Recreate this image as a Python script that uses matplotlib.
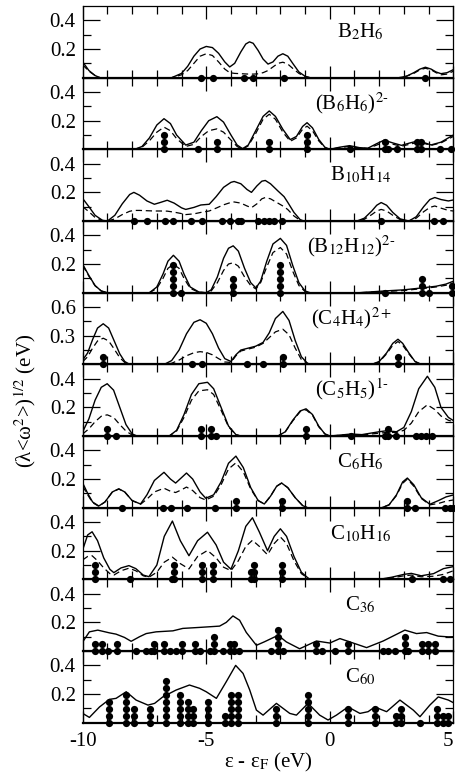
import matplotlib.pyplot as plt
import numpy as np

plt.rcParams['font.family'] = ['Liberation Serif', 'DejaVu Serif']
plt.rcParams['mathtext.fontset'] = 'stix'
plt.rcParams['axes.unicode_minus'] = False

# columns: energy (eV), full curve, dashed curve
b2h6_curve = np.array([
    [-10, 0.11, 0.09], [-9.75, 0.05, 0.045], [-9.5, 0.015, 0.015], [-9.3, 0, 0],
    [-6.4, 0, 0], [-6.0, 0.03, 0.02], [-5.75, 0.08, 0.05], [-5.5, 0.15, 0.10],
    [-5.25, 0.20, 0.15], [-5.0, 0.218, 0.167], [-4.75, 0.21, 0.155], [-4.5, 0.17, 0.11],
    [-4.25, 0.11, 0.06], [-4.05, 0.075, 0.035], [-3.85, 0.10, 0.03], [-3.6, 0.18, 0.028],
    [-3.4, 0.235, 0.026], [-3.25, 0.25, 0.025], [-3.1, 0.24, 0.025], [-2.9, 0.19, 0.027],
    [-2.7, 0.13, 0.035], [-2.5, 0.095, 0.05], [-2.3, 0.11, 0.075], [-2.1, 0.15, 0.10],
    [-1.9, 0.167, 0.108], [-1.7, 0.15, 0.095], [-1.5, 0.10, 0.065], [-1.25, 0.04, 0.03],
    [-1.0, 0.01, 0.008], [-0.8, 0, 0], [2.8, 0, 0], [3.1, 0.01, 0.01],
    [3.4, 0.035, 0.03], [3.65, 0.06, 0.055], [3.87, 0.073, 0.066], [4.1, 0.06, 0.055],
    [4.3, 0.04, 0.035], [4.5, 0.028, 0.02], [4.75, 0.035, 0.025], [5.0, 0.056, 0.045],
])
b2h6_lev = [-5.22, -4.72, -3.46, -3.10, -1.87, 3.87]
b2h6_deg = [1, 1, 1, 1, 1, 1]

b6h6_curve = np.array([
    [-10, 0, 0], [-7.9, 0, 0], [-7.6, 0.02, 0.015], [-7.3, 0.08, 0.06],
    [-7.0, 0.17, 0.12], [-6.71, 0.214, 0.155], [-6.45, 0.18, 0.13], [-6.2, 0.10, 0.075],
    [-5.83, 0.03, 0.02], [-5.5, 0.05, 0.035], [-5.2, 0.13, 0.09], [-4.9, 0.20, 0.13],
    [-4.57, 0.228, 0.143], [-4.3, 0.19, 0.12], [-4.0, 0.10, 0.065], [-3.75, 0.03, 0.02],
    [-3.53, 0.005, 0.0], [-3.3, 0.03, 0.025], [-3.0, 0.13, 0.11], [-2.7, 0.23, 0.21],
    [-2.45, 0.268, 0.245], [-2.2, 0.23, 0.21], [-1.9, 0.14, 0.12], [-1.6, 0.068, 0.056],
    [-1.35, 0.09, 0.08], [-1.1, 0.16, 0.14], [-0.92, 0.186, 0.162], [-0.7, 0.15, 0.13],
    [-0.45, 0.07, 0.06], [-0.2, 0.015, 0.012], [0.0, 0, 0], [0.4, 0.015, 0.012],
    [0.8, 0.026, 0.02], [1.2, 0.012, 0.01], [1.54, 0.008, 0.006], [1.9, 0.04, 0.03],
    [2.2, 0.064, 0.05], [2.55, 0.045, 0.036], [2.9, 0.028, 0.022], [3.25, 0.045, 0.036],
    [3.57, 0.059, 0.05], [3.85, 0.045, 0.04], [4.1, 0.031, 0.028], [4.5, 0.05, 0.045],
    [5.0, 0.10, 0.09],
])
b6h6_lev = [-6.71, -5.32, -4.57, -2.45, -0.92, 0.83, 2.22, 2.36, 2.72, 3.55, 3.70, 4.47, 4.90]
b6h6_deg = [3, 1, 2, 2, 3, 1, 2, 1, 1, 2, 2, 1, 1]

b10h14_curve = np.array([
    [-10, 0.157, 0.10], [-9.75, 0.10, 0.065], [-9.5, 0.04, 0.025], [-9.2, 0.005, 0.003],
    [-9.0, 0, 0], [-8.7, 0.04, 0.015], [-8.4, 0.12, 0.045], [-8.1, 0.185, 0.068],
    [-7.93, 0.20, 0.074], [-7.7, 0.18, 0.074], [-7.4, 0.14, 0.072], [-7.1, 0.117, 0.07],
    [-6.85, 0.13, 0.07], [-6.58, 0.145, 0.069], [-6.3, 0.125, 0.062], [-6.0, 0.092, 0.052],
    [-5.83, 0.081, 0.045], [-5.5, 0.095, 0.05], [-5.22, 0.112, 0.06], [-4.88, 0.117, 0.07],
    [-4.6, 0.17, 0.09], [-4.3, 0.235, 0.113], [-4.0, 0.27, 0.13], [-3.87, 0.276, 0.133],
    [-3.6, 0.26, 0.125], [-3.35, 0.22, 0.105], [-3.17, 0.20, 0.093], [-2.95, 0.245, 0.12],
    [-2.75, 0.278, 0.155], [-2.61, 0.283, 0.164], [-2.4, 0.26, 0.155], [-2.1, 0.21, 0.125],
    [-1.85, 0.17, 0.10], [-1.7, 0.13, 0.08], [-1.45, 0.06, 0.035], [-1.2, 0.01, 0.005],
    [-1.05, 0, 0], [1.1, 0, 0], [1.4, 0.02, 0.012], [1.7, 0.07, 0.045],
    [1.9, 0.11, 0.07], [2.08, 0.129, 0.081], [2.3, 0.11, 0.07], [2.55, 0.06, 0.04],
    [2.85, 0.015, 0.01], [3.2, 0, 0], [3.5, 0.03, 0.02], [3.8, 0.10, 0.065],
    [4.05, 0.15, 0.095], [4.25, 0.164, 0.105], [4.5, 0.15, 0.09], [4.8, 0.14, 0.074],
    [5.0, 0.147, 0.07],
])
b10h14_lev = [-7.93, -7.39, -6.68, -6.33, -5.63, -5.16, -4.38, -4.03, -3.71, -3.60,
              -2.90, -2.65, -2.45, -2.25, -1.94, 2.08, 4.22, 4.59]
b10h14_deg = [1] * 18

b12h12_curve = np.array([
    [-10, 0.198, 0.19], [-9.75, 0.12, 0.115], [-9.5, 0.05, 0.048], [-9.25, 0.012, 0.012],
    [-9.0, 0, 0], [-7.3, 0, 0], [-7.0, 0.04, 0.03], [-6.75, 0.13, 0.10],
    [-6.55, 0.22, 0.17], [-6.33, 0.261, 0.198], [-6.1, 0.22, 0.17], [-5.9, 0.13, 0.10],
    [-5.65, 0.04, 0.03], [-5.3, 0.005, 0.003], [-5.0, 0, 0], [-4.8, 0.02, 0.012],
    [-4.55, 0.11, 0.07], [-4.3, 0.24, 0.155], [-4.1, 0.31, 0.20], [-3.91, 0.327, 0.209],
    [-3.7, 0.29, 0.185], [-3.45, 0.17, 0.11], [-3.2, 0.07, 0.05], [-2.99, 0.033, 0.026],
    [-2.8, 0.08, 0.07], [-2.55, 0.22, 0.18], [-2.3, 0.34, 0.28], [-2.0, 0.379, 0.315],
    [-1.75, 0.33, 0.27], [-1.5, 0.19, 0.15], [-1.25, 0.07, 0.05], [-1.0, 0.012, 0.008],
    [-0.8, 0, 0], [1.2, 0, 0], [2.2, 0.012, 0.008], [3.0, 0.02, 0.015],
    [3.7, 0.033, 0.028], [4.3, 0.045, 0.04], [4.7, 0.06, 0.052], [5.0, 0.08, 0.068],
])
b12h12_lev = [-6.33, -6.04, -3.91, -2.0, 2.25, 3.73, 4.0, 4.93]
b12h12_deg = [5, 1, 3, 5, 1, 3, 1, 2]

c4h4_curve = np.array([
    [-10, 0.046, 0.028], [-9.8, 0.12, 0.08], [-9.6, 0.26, 0.17], [-9.4, 0.38, 0.245],
    [-9.17, 0.425, 0.274], [-8.95, 0.38, 0.245], [-8.75, 0.26, 0.17], [-8.5, 0.11, 0.07],
    [-8.3, 0.03, 0.02], [-8.1, 0, 0], [-6.7, 0, 0], [-6.4, 0.04, 0.012],
    [-6.1, 0.15, 0.045], [-5.8, 0.32, 0.09], [-5.5, 0.44, 0.122], [-5.25, 0.467, 0.133],
    [-5.0, 0.43, 0.125], [-4.75, 0.32, 0.10], [-4.5, 0.17, 0.06], [-4.25, 0.06, 0.025],
    [-4.0, 0.03, 0.02], [-3.8, 0.10, 0.09], [-3.6, 0.15, 0.14], [-3.3, 0.17, 0.16],
    [-3.0, 0.19, 0.18], [-2.7, 0.23, 0.22], [-2.45, 0.33, 0.28], [-2.2, 0.48, 0.34],
    [-1.9, 0.554, 0.368], [-1.65, 0.46, 0.31], [-1.4, 0.25, 0.17], [-1.15, 0.08, 0.05],
    [-0.9, 0.01, 0.01], [-0.7, 0, 0], [1.7, 0, 0], [2.0, 0.03, 0.025],
    [2.3, 0.12, 0.11], [2.55, 0.22, 0.20], [2.76, 0.263, 0.239], [2.95, 0.22, 0.20],
    [3.2, 0.12, 0.11], [3.45, 0.03, 0.03], [3.7, 0, 0], [5.0, 0, 0],
])
c4h4_lev = [-9.17, -5.56, -5.16, -3.36, -2.72, -1.91, 2.76]
c4h4_deg = [2, 1, 1, 1, 1, 2, 2]

c5h5_curve = np.array([
    [-10, 0.03, 0.015], [-9.75, 0.12, 0.05], [-9.5, 0.25, 0.10], [-9.25, 0.34, 0.138],
    [-9.01, 0.365, 0.148], [-8.75, 0.32, 0.13], [-8.5, 0.20, 0.08], [-8.25, 0.08, 0.035],
    [-8.0, 0.015, 0.007], [-7.8, 0, 0], [-6.5, 0, 0], [-6.2, 0.04, 0.035],
    [-5.9, 0.15, 0.13], [-5.6, 0.29, 0.25], [-5.3, 0.365, 0.315], [-4.95, 0.375, 0.323],
    [-4.7, 0.33, 0.29], [-4.4, 0.20, 0.18], [-4.1, 0.07, 0.065], [-3.8, 0.01, 0.01],
    [-3.6, 0, 0], [-2.1, 0, 0], [-1.8, 0.03, 0.03], [-1.5, 0.11, 0.105],
    [-1.2, 0.175, 0.17], [-0.96, 0.19, 0.183], [-0.7, 0.15, 0.145], [-0.45, 0.07, 0.065],
    [-0.2, 0.015, 0.015], [0.0, 0, 0], [0.5, 0.008, 0.006], [0.85, 0.014, 0.01],
    [1.3, 0.01, 0.008], [2.0, 0.03, 0.02], [2.3, 0.037, 0.025], [2.7, 0.03, 0.025],
    [3.0, 0.06, 0.04], [3.3, 0.17, 0.09], [3.6, 0.33, 0.17], [3.95, 0.417, 0.218],
    [4.25, 0.34, 0.185], [4.5, 0.20, 0.14], [4.8, 0.13, 0.11], [5.0, 0.108, 0.10],
])
c5h5_lev = [-9.01, -8.67, -5.22, -4.79, -4.61, -0.95, 0.87, 2.22, 2.35, 2.69,
            3.50, 3.70, 3.89, 4.12]
c5h5_deg = [2, 1, 2, 2, 1, 2, 1, 1, 2, 1, 1, 1, 1, 1]

c6h6_curve = np.array([
    [-10, 0.172, 0.15], [-9.8, 0.10, 0.09], [-9.6, 0.04, 0.035], [-9.35, 0.012, 0.01],
    [-9.1, 0.04, 0.04], [-8.8, 0.11, 0.11], [-8.54, 0.132, 0.13], [-8.3, 0.11, 0.11],
    [-8.0, 0.05, 0.05], [-7.66, 0.026, 0.024], [-7.4, 0.09, 0.06], [-7.1, 0.19, 0.11],
    [-6.71, 0.247, 0.136], [-6.45, 0.20, 0.115], [-6.24, 0.172, 0.106], [-6.0, 0.21, 0.125],
    [-5.8, 0.242, 0.144], [-5.55, 0.20, 0.12], [-5.25, 0.11, 0.07], [-5.02, 0.066, 0.054],
    [-4.7, 0.09, 0.08], [-4.4, 0.18, 0.16], [-4.1, 0.31, 0.27], [-3.8, 0.36, 0.313],
    [-3.5, 0.28, 0.25], [-3.2, 0.14, 0.13], [-2.9, 0.05, 0.05], [-2.65, 0.026, 0.026],
    [-2.4, 0.08, 0.08], [-2.15, 0.15, 0.15], [-1.95, 0.172, 0.172], [-1.7, 0.14, 0.14],
    [-1.4, 0.07, 0.07], [-1.1, 0.015, 0.015], [-0.9, 0, 0], [2.1, 0, 0],
    [2.4, 0.02, 0.02], [2.7, 0.09, 0.085], [2.95, 0.18, 0.17], [3.14, 0.207, 0.20],
    [3.4, 0.16, 0.15], [3.7, 0.07, 0.065], [4.05, 0.024, 0.02], [4.4, 0.05, 0.03],
    [4.7, 0.075, 0.045], [5.0, 0.089, 0.054],
])
c6h6_lev = [-8.43, -6.75, -6.44, -5.76, -4.65, -3.79, -1.94, 3.13, 3.44, 4.65, 4.86, 4.98]
c6h6_deg = [1, 1, 1, 1, 1, 2, 2, 2, 1, 1, 1, 1]

c10h16_curve = np.array([
    [-10, 0.207, 0.136], [-9.8, 0.31, 0.16], [-9.62, 0.332, 0.165], [-9.4, 0.27, 0.13],
    [-9.15, 0.15, 0.08], [-8.9, 0.07, 0.04], [-8.74, 0.047, 0.03], [-8.45, 0.08, 0.06],
    [-8.13, 0.096, 0.078], [-7.85, 0.075, 0.06], [-7.55, 0.03, 0.025], [-7.32, 0.019, 0.015],
    [-7.0, 0.10, 0.05], [-6.7, 0.30, 0.12], [-6.37, 0.407, 0.155], [-6.05, 0.27, 0.11],
    [-5.7, 0.165, 0.073], [-5.35, 0.27, 0.16], [-4.95, 0.329, 0.202], [-4.6, 0.24, 0.15],
    [-4.3, 0.12, 0.085], [-4.0, 0.071, 0.061], [-3.7, 0.20, 0.13], [-3.4, 0.37, 0.23],
    [-3.13, 0.43, 0.273], [-2.85, 0.33, 0.23], [-2.52, 0.20, 0.172], [-2.25, 0.30, 0.25],
    [-2.0, 0.353, 0.296], [-1.75, 0.30, 0.25], [-1.45, 0.16, 0.13], [-1.15, 0.05, 0.04],
    [-0.85, 0.005, 0.004], [-0.7, 0, 0], [2.0, 0, 0], [2.5, 0.015, 0.01],
    [3.0, 0.035, 0.025], [3.3, 0.042, 0.03], [3.7, 0.025, 0.018], [4.2, 0.04, 0.022],
    [4.6, 0.075, 0.035], [5.0, 0.089, 0.06],
])
c10h16_lev = [-9.51, -8.09, -6.40, -6.30, -5.18, -4.74, -3.19, -3.06, -1.94, 3.34, 4.59, 4.86]
c10h16_deg = [3, 1, 1, 3, 3, 3, 2, 3, 3, 1, 1, 1]

# columns: energy (eV), full curve
c36_curve = np.array([
    [-10, 0.064], [-9.73, 0.134], [-9.39, 0.146], [-8.92, 0.127], [-8.65, 0.118],
    [-8.31, 0.095], [-8.04, 0.068], [-7.7, 0.10], [-7.43, 0.122], [-7.03, 0.134],
    [-6.35, 0.141], [-5.95, 0.158], [-5.27, 0.165], [-4.46, 0.174], [-4.19, 0.20],
    [-3.92, 0.245], [-3.65, 0.215], [-3.38, 0.13], [-2.97, 0.04], [-2.64, 0.065],
    [-2.09, 0.11], [-1.76, 0.064], [-1.22, 0.016], [-0.54, 0.07], [0.0, 0.056],
    [0.41, 0.087], [0.81, 0.064], [1.49, 0.024], [2.16, 0.07], [3.04, 0.146],
    [3.51, 0.122], [3.92, 0.129], [4.39, 0.104], [4.8, 0.099], [5.0, 0.10],
])
c36_lev = [-9.49, -9.22, -8.99, -8.62, -7.84, -7.43, -7.23, -7.12, -6.69, -6.46,
           -6.22, -5.99, -5.45, -5.27, -4.86, -4.69, -4.32, -4.05, -3.89, -3.68,
           -2.36, -2.09, -1.89, -0.54, -0.31, 0.20, 0.72, 2.16, 2.36, 2.64,
           3.04, 3.18, 3.72, 3.99, 4.26]
c36_deg = [2, 2, 1, 2, 1, 1, 1, 2, 2, 1,
           1, 2, 2, 1, 1, 3, 1, 2, 2, 1,
           1, 4, 1, 2, 1, 1, 2, 1, 1, 1,
           3, 1, 2, 2, 2]

c60_curve = np.array([
    [-10, 0.065], [-9.73, 0.037], [-9.32, 0.11], [-8.92, 0.163], [-8.65, 0.17],
    [-8.24, 0.216], [-7.84, 0.158], [-7.36, 0.123], [-7.09, 0.135], [-6.76, 0.18],
    [-6.22, 0.228], [-5.68, 0.263], [-5.27, 0.24], [-5.0, 0.216], [-4.59, 0.17],
    [-4.19, 0.286], [-3.81, 0.40], [-3.51, 0.344], [-3.24, 0.228], [-2.97, 0.088],
    [-2.7, 0.053], [-2.16, 0.135], [-1.62, 0.065], [-1.35, 0.053], [-0.88, 0.135],
    [-0.41, 0.053], [-0.07, 0.019], [0.27, 0.053], [0.74, 0.11], [1.22, 0.065],
    [1.55, 0.077], [1.82, 0.11], [2.3, 0.077], [2.84, 0.158], [3.38, 0.088],
    [3.65, 0.042], [4.05, 0.123], [4.39, 0.18], [4.8, 0.158], [5.0, 0.14],
])
c60_lev = [-8.92, -8.24, -7.91, -7.26, -6.62, -6.08, -5.74, -5.54, -4.93, -4.26, -3.99,
           -3.72, -2.16, -0.88, 0.74, 1.82, 2.66, 2.90, 3.65, 4.32, 4.59, 4.80]
c60_deg = [4, 5, 3, 3, 7, 5, 4, 3, 4, 2, 5, 5, 3, 5, 3, 3, 2, 3, 1, 3, 2, 2]

labels = [r'B$_2$H$_6$', r'(B$_6$H$_6$)$^{2\text{-}}$', r'B$_{10}$H$_{14}$',
          r'(B$_{12}$H$_{12}$)$^{2\text{-}}$', r'(C$_4$H$_4$)$^{2+}$',
          r'(C$_5$H$_5$)$^{1\text{-}}$', r'C$_6$H$_6$', r'C$_{10}$H$_{16}$',
          r'C$_{36}$', r'C$_{60}$']
curves = [b2h6_curve, b6h6_curve, b10h14_curve, b12h12_curve, c4h4_curve,
          c5h5_curve, c6h6_curve, c10h16_curve, c36_curve, c60_curve]
levels = [b2h6_lev, b6h6_lev, b10h14_lev, b12h12_lev, c4h4_lev,
          c5h5_lev, c6h6_lev, c10h16_lev, c36_lev, c60_lev]
degen = [b2h6_deg, b6h6_deg, b10h14_deg, b12h12_deg, c4h4_deg,
         c5h5_deg, c6h6_deg, c10h16_deg, c36_deg, c60_deg]
ytops = [0.5, 0.5, 0.5, 0.5, 0.75, 0.5, 0.5, 0.5, 0.5, 0.5]


def draw_panel(ax, label, curve, lev, deg, ytop):
    ax.patch.set_visible(False)
    ax.plot(curve[:, 0], curve[:, 1], color='k', lw=1.0)
    if curve.shape[1] > 2:
        ax.plot(curve[:, 0], curve[:, 2], color='k', lw=0.9, ls=(0, (5, 3)))

    # stack one dot per degenerate level
    step = 0.098 * ytop
    xs, ys = [], []
    for e, n in zip(lev, deg):
        for k in range(n):
            xs.append(e)
            ys.append(k * step)
    ax.plot(xs, ys, 'o', color='k', ms=5.2, mew=0, clip_on=False, zorder=5)

    ax.set_xlim(-10, 5)
    ax.set_ylim(0, ytop)
    major = 0.2 if ytop == 0.5 else 0.3
    ax.set_yticks([major, 2 * major])
    ax.set_yticks([major / 2, 1.5 * major], minor=True)
    ax.set_xticks([-10, -5, 0, 5])
    ax.set_xticks(np.arange(-10, 6, 1), minor=True)
    ax.tick_params(which='both', direction='in', top=True, right=True,
                   width=0.9, labelsize=15)
    ax.tick_params(axis='x', which='major', length=9, pad=7)
    ax.tick_params(axis='x', which='minor', length=6)
    ax.tick_params(axis='y', which='major', length=12, pad=5)
    ax.tick_params(axis='y', which='minor', length=6)
    for side in ['left', 'right', 'top']:
        ax.spines[side].set_linewidth(0.9)
    ax.spines['bottom'].set_linewidth(1.6)

    xpos = 0.725 if '^' in label else 0.75
    ax.text(xpos, 0.565, label, transform=ax.transAxes, ha='center',
            va='baseline', fontsize=15)


def main():
    fig, axes = plt.subplots(10, 1, sharex=True, figsize=(4.55, 7.82), dpi=100,
                             gridspec_kw=dict(hspace=0))
    fig.subplots_adjust(left=0.1818, right=0.9963, top=0.9923, bottom=0.0758)

    for i, ax in enumerate(axes):
        draw_panel(ax, labels[i], curves[i], levels[i], degen[i], ytops[i])

    # keep the last energy label inside the figure edge
    axes[-1].get_xticklabels()[-1].set_horizontalalignment('right')

    fig.text(0.589, 0.018, r'ε - ε$_{\mathrm{F}}$ (eV)', ha='center',
             va='baseline', fontsize=15)
    fig.text(0.055, 0.488, r'(λ<ω$^2$>)$^{1/2}$ (eV)', rotation=90,
             ha='center', va='center', fontsize=15)

    fig.savefig('out.png', dpi=100)


if __name__ == '__main__':
    main()
